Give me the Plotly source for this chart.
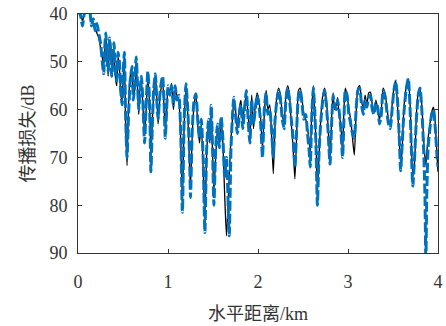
import plotly.graph_objects as go

# horizontal range (km) and transmission loss (dB)
range_km = [
    0.00, 0.03, 0.05, 0.07, 0.10, 0.13, 0.15, 0.17, 0.19, 0.21,
    0.23, 0.25, 0.27, 0.285, 0.30, 0.31, 0.32, 0.335, 0.35, 0.36,
    0.375, 0.39, 0.40, 0.415, 0.43, 0.445, 0.46, 0.475, 0.49, 0.50,
    0.515, 0.53, 0.545, 0.56, 0.58, 0.60, 0.615, 0.63, 0.646, 0.66,
    0.675, 0.69, 0.705, 0.72, 0.74, 0.755, 0.776, 0.79, 0.80, 0.81,
    0.825, 0.84, 0.86, 0.875, 0.89, 0.905, 0.92, 0.94, 0.955, 0.97,
    0.985, 1.00, 1.02, 1.04, 1.06, 1.08, 1.10, 1.12, 1.14, 1.16,
    1.18, 1.20, 1.22, 1.24, 1.25, 1.27, 1.29, 1.31, 1.33, 1.35,
    1.37, 1.39, 1.41, 1.43, 1.45, 1.465, 1.48, 1.495, 1.51, 1.53,
    1.55, 1.57, 1.59, 1.61, 1.63, 1.65, 1.68, 1.70, 1.72, 1.73,
    1.75, 1.77, 1.79, 1.81, 1.83, 1.85, 1.87, 1.89, 1.91, 1.93,
    1.95, 1.97, 1.99, 2.01, 2.03, 2.05, 2.07, 2.09, 2.11, 2.13,
    2.15, 2.17, 2.19, 2.21, 2.23, 2.25, 2.27, 2.29, 2.31, 2.33,
    2.35, 2.37, 2.39, 2.41, 2.43, 2.45, 2.47, 2.49, 2.51, 2.53,
    2.55, 2.57, 2.58, 2.60, 2.615, 2.63, 2.645, 2.66, 2.68, 2.70,
    2.72, 2.74, 2.76, 2.78, 2.80, 2.82, 2.835, 2.85, 2.87, 2.885,
    2.90, 2.92, 2.94, 2.955, 2.97, 2.99, 3.01, 3.03, 3.05, 3.07,
    3.09, 3.11, 3.13, 3.15, 3.17, 3.19, 3.21, 3.23, 3.25, 3.27,
    3.29, 3.31, 3.33, 3.35, 3.37, 3.39, 3.41, 3.43, 3.45, 3.47,
    3.49, 3.51, 3.53, 3.55, 3.57, 3.585, 3.60, 3.62, 3.645, 3.67,
    3.69, 3.70, 3.72, 3.74, 3.76, 3.78, 3.80, 3.82, 3.84, 3.855,
    3.865, 3.875, 3.89, 3.91, 3.93, 3.95, 3.97, 3.99, 4.00,
]

tl_blue = [
    39, 40.5, 42.5, 40, 39, 39.5, 42.5, 41, 43.5, 42,
    44, 46, 50, 52.5, 46, 44, 49, 52, 45, 47,
    53, 48, 46, 52, 54, 48, 50, 56, 59, 53,
    48, 62, 70, 62, 54, 51, 58, 55, 49, 54,
    60, 56, 53, 58, 67, 60, 52, 56, 63, 73,
    64, 56, 52.5, 58, 62, 58, 55, 53, 58, 66,
    60, 55, 57, 55, 59, 55, 58, 57, 64, 81.5,
    62, 54.6, 60, 70, 78.4, 64, 58, 56.7, 62, 66,
    62, 70, 85.7, 68, 62, 66, 59.1, 68, 80, 68,
    63, 68, 61.5, 66, 74, 70, 86.4, 68, 60, 57.4,
    61, 65, 61.5, 59, 64, 60, 56, 62, 67, 58,
    63, 60, 57, 59, 63, 70, 60, 56.5, 61, 60,
    64, 70, 62, 58, 56, 58, 62, 64, 58, 55.5,
    58, 62, 66, 72, 64, 57, 56, 59, 62, 61,
    65, 69, 72, 60, 55.5, 60, 68, 80, 68, 62,
    58, 56, 59, 65, 71.4, 62, 57, 59, 60, 58,
    60, 64, 70, 62, 56, 57, 61, 63, 65, 66,
    60, 56, 55.5, 59, 61, 58, 59.5, 57.5, 57, 60,
    61, 58.5, 59.5, 63, 61, 56, 57, 60, 63, 64,
    60, 56, 54, 58, 66, 72.8, 68, 61, 56, 53.5,
    60, 66, 76, 70, 62, 57, 55.5, 60, 68, 78,
    92, 78, 68, 64, 61, 60, 64, 70, 72,
]

tl_black = [
    39, 40, 41.5, 40, 39, 39, 41.5, 42, 43, 44,
    45, 47, 49, 51, 47, 45, 48, 53, 45.5, 46,
    52, 49, 47.5, 53, 55, 49, 51, 57, 58, 54,
    49, 64, 71.7, 60, 53, 52, 57, 56, 50, 55,
    61, 55, 54, 59, 65, 61, 53, 57, 62, 70,
    63, 57, 53, 57, 63, 59, 56, 54, 59, 64,
    61, 56, 56, 54.5, 60, 56, 57, 58, 66, 79,
    63, 55, 61, 72, 76, 65, 59, 57, 63, 67,
    63, 72, 83, 69, 63, 67, 60, 69, 77, 70,
    64, 67, 62, 67, 78, 86.4, 74, 66, 61, 58,
    60, 64, 60, 58, 63, 59, 57, 61, 66, 57,
    64, 59, 56.5, 58, 62, 68, 61, 56, 60, 59,
    65, 73.4, 63, 57, 55.5, 57, 61, 63, 57, 55,
    57, 63, 68, 74.5, 65, 56, 55.5, 58, 61, 62,
    64, 67, 70, 59, 55, 61, 67, 77, 69, 61,
    57, 55.5, 58, 64, 71, 61, 56.5, 60, 59, 57.5,
    61, 63, 69, 60, 55.5, 57, 60, 62, 66, 69.5,
    61, 55.5, 55, 58, 60, 57, 59, 56.5, 56.4, 59,
    60, 58, 60, 62, 60, 55.5, 56.5, 59, 62, 63,
    59, 55.5, 54, 59, 67, 71, 69, 60, 55.5, 53.5,
    59, 64, 74, 71, 61, 56.5, 55.5, 59, 66, 70,
    71.5, 69, 66, 63, 60.5, 59.5, 63, 70, 73,
]

x_ticks = [0, 1, 2, 3, 4]
y_ticks = [40, 50, 60, 70, 80, 90]

fig = go.Figure()
fig.add_trace(go.Scatter(x=range_km, y=tl_black, mode="lines",
                         line=dict(color="#000000", width=1.3, shape="spline", smoothing=0.6),
                         showlegend=False))
fig.add_trace(go.Scatter(x=range_km, y=tl_blue, mode="lines",
                         line=dict(color="#0072BD", width=3, dash="10px,3px", shape="spline", smoothing=0.6),
                         showlegend=False))

font_fam = "Liberation Serif, Noto Sans CJK SC, serif"
axis_common = dict(showline=True, linecolor="#333333", linewidth=1, mirror="ticks",
                   ticks="inside", ticklen=4, tickcolor="#333333", showgrid=False, zeroline=False,
                   automargin=False,
                   tickfont=dict(family=font_fam, size=18, color="#333333"))

fig.update_xaxes(range=[0, 4], tickvals=x_ticks, ticklabelstandoff=12,
                 title=dict(text="水平距离/km", font=dict(family=font_fam, size=18, color="#333333"), standoff=16),
                 **axis_common)
fig.update_yaxes(range=[90, 40], tickvals=y_ticks, ticklabelstandoff=6,
                 title=dict(text="传播损失/dB", font=dict(family=font_fam, size=18, color="#333333"), standoff=10),
                 **axis_common)

fig.update_layout(width=446, height=326, margin=dict(l=78, r=8, t=14, b=73),
                  paper_bgcolor="white", plot_bgcolor="white")

fig.write_html("out.html")
